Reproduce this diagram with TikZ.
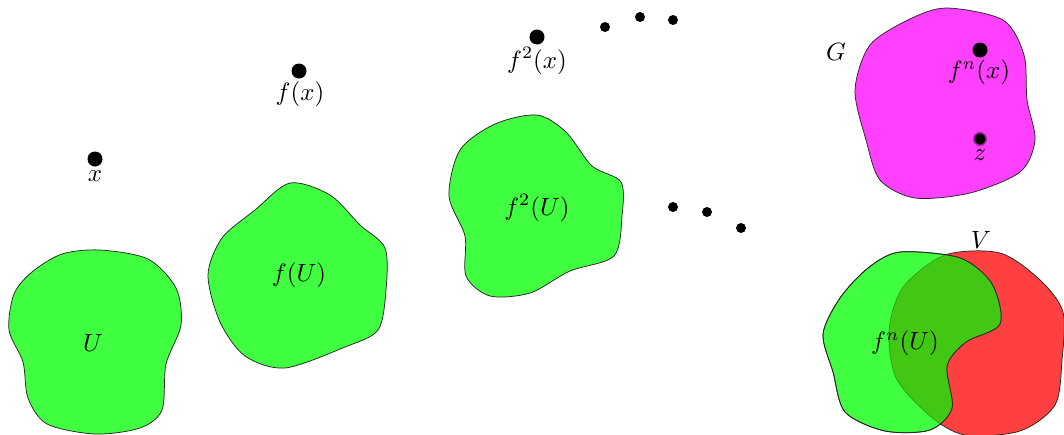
\documentclass[tikz,border=0pt]{standalone}
\usepackage{tikz}

\definecolor{setgreen}{RGB}{64,255,64}
\definecolor{setred}{RGB}{255,64,64}
\definecolor{setmagenta}{RGB}{255,64,255}
\definecolor{overlapgreen}{RGB}{66,200,20}

% outlines used more than once
\newcommand{\fnUshape}{plot[smooth cycle] coordinates {(900,252) (960,258) (992,284) (1000,324) (966,342) (947,366) (952,408) (930,430) (885,431) (845,412) (833,372) (823,334) (840,298) (868,268)}}
\newcommand{\Vshape}{plot[smooth cycle] coordinates {(945,255) (1000,253) (1040,280) (1063,312) (1062,360) (1055,405) (1020,431) (965,435) (930,416) (896,378) (889,330) (903,287)}}

\tikzset{
  blob/.style={draw=black!85, line width=0.3pt, fill=setgreen},
  bigdot/.style={fill=black},
  lbl/.style={inner sep=1pt}
}

\begin{document}
\begin{tikzpicture}[x=0.4pt, y=-0.4pt]

\useasboundingbox (0,0) rectangle (1064,434);

% Sets U, f(U), f^2(U)
\draw[blob] plot[smooth cycle] coordinates {(32,272) (62,254) (100,250) (148,259) (176,288) (181,325) (166,364) (162,410) (140,428) (95,434) (47,424) (28,398) (23,362) (9,330) (14,294)};
\draw[blob] plot[smooth cycle] coordinates {(290,183) (330,195) (360,225) (385,248) (386,290) (378,330) (345,347) (285,368) (245,356) (220,322) (208,275) (222,238) (255,210)};
\draw[blob] plot[smooth cycle] coordinates {(537,115) (566,132) (592,166) (621,182) (622,216) (614,256) (570,271) (530,293) (490,296) (466,276) (465,236) (449,196) (460,150) (495,124)};

\node[lbl] (U) at (93,343) {$U$};
\node[lbl] (fU) at (299,275) {$f(U)$};
\node[lbl] (f2U) at (537,208) {$f^2(U)$};

% Set G
\draw[blob, fill=setmagenta] plot[smooth cycle] coordinates {(947,8) (1003,20) (1024,55) (1027,100) (1035,140) (1020,172) (970,193) (915,198) (880,180) (866,140) (855,90) (870,45) (910,19)};
\node[lbl] (G) at (836,52) {$G$};

% Sets f^n(U) and V
\draw[blob, fill=setred] \Vshape;
\draw[blob] \fnUshape;
\begin{scope}
  \clip \fnUshape;
  \fill[overlapgreen] \Vshape;
  \draw[black, line width=0.3pt, draw opacity=0.25] \Vshape;
\end{scope}
\draw[draw=black!85, line width=0.3pt] \fnUshape;
\node[lbl] (fnU) at (905,343) {$f^n(U)$};
\node[lbl] (V) at (981,240) {$V$};

% Orbit of x
\fill[bigdot] (95,159) circle (3pt);
\node[lbl] (x) at (95,176) {$x$};
\fill[bigdot] (299,71) circle (3pt);
\node[lbl] (fx) at (300,94) {$f(x)$};
\fill[bigdot] (537,37) circle (3pt);
\node[lbl] (f2x) at (537,61) {$f^2(x)$};
\fill[bigdot] (980,50) circle (3pt);
\node[lbl] (fnx) at (979,72) {$f^n(x)$};
\fill[bigdot, draw=setmagenta!60!black, line width=0.6pt] (980,139) circle (2.5pt);
\node[lbl] (z) at (980,155) {$z$};

% Dots
\foreach \px/\py in {605/27, 640/17, 673/20, 673/207, 707/212, 741/228}
  \fill (\px,\py) circle (2pt);

\end{tikzpicture}
\end{document}
